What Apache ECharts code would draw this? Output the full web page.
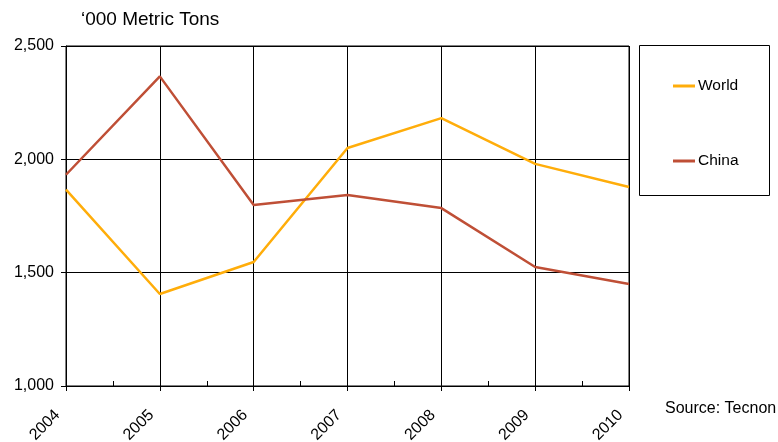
<!DOCTYPE html>
<html lang="en">
<head>
<meta charset="UTF-8" />
<title>World vs China</title>
<script type="text/javascript" src="https://cdn.jsdelivr.net/npm/echarts@6/dist/echarts.min.js"></script>
</head>
<body style="margin:0">
<div id="main" style="width: 778px; height: 442px;"></div>
<script type="text/javascript">
    // data ('000 metric tons)
    var years = [2004, 2005, 2006, 2007, 2008, 2009, 2010];
    var world = [1866, 1406, 1547, 2050, 2182, 1980, 1878];
    var china = [1932, 2366, 1799, 1843, 1785, 1525, 1450];
    var yTicks = [1000, 1500, 2000, 2500];

    function pairs(vals) {
        return years.map(function (y, i) { return [y, vals[i]]; });
    }

    var font = 'Liberation Sans, Arial, sans-serif';
    var myChart = echarts.init(document.getElementById('main'));

    var options = {
        animation: false,
        title: {
            text: '\u2018000 Metric Tons',
            left: 76, top: 5,
            textStyle: { fontSize: 19, fontWeight: 'normal', color: '#000', fontFamily: font }
        },
        grid: { left: 66, right: 149, top: 46, bottom: 56, show: true, borderColor: '#000', borderWidth: 1,
                containLabel: false, outerBoundsMode: 'none' },
        legend: {
            orient: 'vertical',
            left: 668, top: 73,
            itemGap: 59,
            itemWidth: 22, itemHeight: 3,
            icon: 'rect',
            textStyle: { fontSize: 15.5, color: '#000', fontFamily: font, padding: [0, 0, 0, -2] },
            data: ['World', 'China']
        },
        graphic: [
            { type: 'rect', shape: { x: 639.5, y: 45.5, width: 130, height: 150 },
              style: { fill: 'none', stroke: '#000', lineWidth: 1 } },
            { type: 'text', left: 665, top: 401,
              style: { text: 'Source: Tecnon', fontSize: 16, fill: '#000', fontFamily: font } }
        ],
        xAxis: [{
            type: 'value',
            min: years[0], max: years[years.length - 1], interval: 1,
            axisLine: { show: true, lineStyle: { color: '#000' } },
            axisTick: { show: true, length: 5, lineStyle: { color: '#000' } },
            splitLine: { show: true, lineStyle: { color: '#000', width: 1 } },
            axisLabel: { rotate: 45, fontSize: 16, color: '#000', fontFamily: font, margin: 18,
                padding: [0, 12, 0, 0],
                formatter: function (v) { return String(v); } }
        }, {
            type: 'value',
            position: 'bottom',
            min: years[0], max: years[years.length - 1], interval: 0.5,
            axisLine: { show: false },
            axisTick: { show: true, inside: true, length: 5, lineStyle: { color: '#000' } },
            splitLine: { show: false },
            axisLabel: { show: false }
        }],
        yAxis: {
            type: 'value',
            min: yTicks[0], max: yTicks[yTicks.length - 1], interval: 500,
            axisLine: { show: true, lineStyle: { color: '#000' } },
            axisTick: { show: true, length: 5, lineStyle: { color: '#000' } },
            splitLine: { show: true, lineStyle: { color: '#000', width: 1 } },
            axisLabel: { fontSize: 16, color: '#000', fontFamily: font, margin: 12,
                formatter: function (v) { return v.toLocaleString('en-US'); } }
        },
        series: [{
            name: 'World',
            type: 'line',
            data: pairs(world),
            symbol: 'none',
            lineStyle: { color: '#FFAD0A', width: 2.5 },
            itemStyle: { color: '#FFAD0A' }
        }, {
            name: 'China',
            type: 'line',
            data: pairs(china),
            symbol: 'none',
            lineStyle: { color: '#BF4F36', width: 2.5 },
            itemStyle: { color: '#BF4F36' }
        }]
    };
    myChart.setOption(options);
</script>
</body>
</html>
